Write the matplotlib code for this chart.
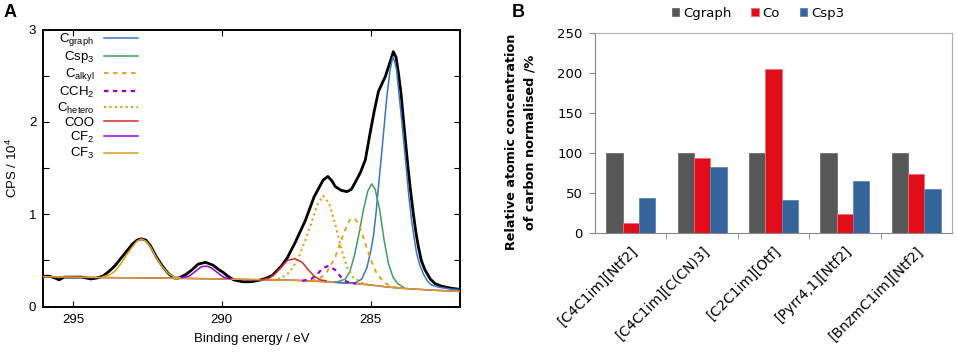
import matplotlib
matplotlib.use("Agg")
from matplotlib import pyplot as plt

plt.rcParams['mathtext.default'] = 'regular'

# --- panel A: C 1s spectrum ---
raw_energy = [296.0, 295.8, 295.6, 295.47, 295.3, 295.0, 294.7, 294.4, 294.2, 294.0,
              293.8, 293.6, 293.4, 293.2, 293.0, 292.85, 292.7, 292.55, 292.4, 292.2,
              292.0, 291.8, 291.6, 291.45, 291.2, 291.0, 290.8, 290.55, 290.3, 290.1,
              289.95, 289.8, 289.6, 289.3, 289.0, 288.7, 288.5, 288.3, 288.15, 288.0,
              287.8, 287.53, 287.2, 286.9, 286.75, 286.6, 286.44, 286.3, 286.19, 286.0,
              285.8, 285.65, 285.53, 285.35, 285.18, 285.02, 284.88, 284.74, 284.6, 284.51,
              284.4, 284.3, 284.24, 284.15, 284.07, 283.98, 283.9, 283.82, 283.74, 283.65,
              283.57, 283.48, 283.4, 283.3, 283.18, 283.0, 282.84, 282.6, 282.3, 282.07]
raw_cps = [0.33, 0.33, 0.31, 0.29, 0.32, 0.32, 0.32, 0.30, 0.31, 0.33,
           0.38, 0.44, 0.52, 0.60, 0.68, 0.72, 0.735, 0.72, 0.66, 0.54,
           0.44, 0.36, 0.31, 0.31, 0.35, 0.40, 0.46, 0.48, 0.45, 0.40,
           0.37, 0.33, 0.29, 0.27, 0.27, 0.29, 0.31, 0.34, 0.39, 0.44,
           0.53, 0.70, 0.93, 1.19, 1.28, 1.37, 1.41, 1.36, 1.30, 1.26,
           1.245, 1.27, 1.34, 1.45, 1.59, 1.88, 2.12, 2.33, 2.43, 2.49,
           2.60, 2.70, 2.76, 2.70, 2.53, 2.30, 2.02, 1.75, 1.48, 1.22,
           1.01, 0.80, 0.65, 0.50, 0.40, 0.30, 0.25, 0.22, 0.20, 0.19]

bg_energy = [296.0, 294.0, 292.0, 290.0, 288.5, 287.5, 286.5, 285.5, 285.0, 284.5, 284.0, 283.0, 282.0]
bg_cps = [0.325, 0.315, 0.31, 0.30, 0.29, 0.285, 0.27, 0.25, 0.235, 0.215, 0.20, 0.18, 0.165]

cgraph_energy = [286.2, 285.8, 285.5, 285.3, 285.13, 285.0, 284.91, 284.82, 284.74, 284.65,
                 284.57, 284.46, 284.35, 284.26, 284.2, 284.13, 284.05, 283.96, 283.88, 283.8,
                 283.72, 283.63, 283.54, 283.46, 283.35, 283.24, 283.1, 282.96, 282.7, 282.3, 282.07]
cgraph_cps = [0.265, 0.255, 0.26, 0.30, 0.42, 0.60, 0.76, 1.02, 1.30, 1.60,
              1.88, 2.27, 2.56, 2.70, 2.66, 2.56, 2.30, 2.02, 1.75, 1.48,
              1.20, 0.94, 0.74, 0.58, 0.45, 0.36, 0.28, 0.235, 0.21, 0.19, 0.185]

csp3_energy = [286.1, 285.85, 285.7, 285.55, 285.4, 285.25, 285.1, 284.97, 284.85, 284.7,
               284.55, 284.4, 284.25, 284.1, 283.9]
csp3_cps = [0.27, 0.30, 0.38, 0.55, 0.78, 1.04, 1.25, 1.33, 1.27, 1.05,
            0.72, 0.46, 0.32, 0.25, 0.21]

calkyl_energy = [287.0, 286.75, 286.5, 286.2, 285.9, 285.7, 285.57, 285.4, 285.2, 285.0,
                 284.8, 284.55, 284.3, 284.0]
calkyl_cps = [0.28, 0.30, 0.36, 0.53, 0.80, 0.94, 0.96, 0.90, 0.70, 0.51,
              0.36, 0.26, 0.22, 0.20]

cch2_energy = [287.3, 287.0, 286.8, 286.6, 286.42, 286.2, 286.0, 285.8, 285.5]
cch2_cps = [0.28, 0.30, 0.35, 0.42, 0.44, 0.40, 0.32, 0.27, 0.25]

chetero_energy = [288.3, 288.0, 287.8, 287.6, 287.4, 287.2, 287.0, 286.8, 286.6, 286.4,
                  286.2, 286.0, 285.8, 285.6, 285.3, 285.0]
chetero_cps = [0.29, 0.31, 0.35, 0.43, 0.55, 0.72, 0.90, 1.10, 1.20, 1.12,
               0.90, 0.64, 0.43, 0.32, 0.26, 0.23]

coo_energy = [288.7, 288.4, 288.2, 288.0, 287.8, 287.56, 287.3, 287.1, 286.9, 286.7, 286.5]
coo_cps = [0.29, 0.31, 0.36, 0.43, 0.50, 0.52, 0.48, 0.40, 0.33, 0.29, 0.28]

cf2_energy = [291.4, 291.1, 290.9, 290.7, 290.53, 290.35, 290.15, 289.95, 289.7]
cf2_cps = [0.31, 0.33, 0.38, 0.43, 0.44, 0.42, 0.37, 0.32, 0.30]

cf3_energy = [294.0, 293.8, 293.6, 293.4, 293.2, 293.0, 292.85, 292.7, 292.55, 292.4,
              292.2, 292.0, 291.8, 291.6, 291.4]
cf3_cps = [0.325, 0.34, 0.38, 0.46, 0.56, 0.65, 0.71, 0.733, 0.71, 0.65,
           0.53, 0.43, 0.36, 0.32, 0.31]

# --- panel B: relative atomic concentration ---
liquids = ['[C4C1im][Ntf2]', '[C4C1im][C(CN)3]', '[C2C1im][Otf]', '[Pyrr4,1][Ntf2]', '[BnzmC1im][Ntf2]']
cgraph_rel = [100, 100, 100, 100, 100]
co_rel = [12, 94, 205, 23, 74]
csp3_rel = [44, 82, 41, 65, 55]

FONT_A = 'Liberation Sans'


def plot_spectrum(ax):
    ax.plot(raw_energy, raw_cps, color='black', lw=2.0, zorder=2)
    ax.plot(bg_energy, bg_cps, color='#8f06d6', lw=1.1, zorder=3)
    ax.plot(bg_energy, bg_cps, color='#d9a21c', lw=1.1, zorder=3.5)

    comps = [
        (cgraph_energy, cgraph_cps, r'C$_{graph}$', '#3a75c4', '-', 1.1),
        (csp3_energy, csp3_cps, r'Csp$_3$', '#3f9c66', '-', 1.1),
        (calkyl_energy, calkyl_cps, r'C$_{alkyl}$', '#e59e0a', (0, (2.5, 2.5)), 1.3),
        (cch2_energy, cch2_cps, r'CCH$_2$', '#8f06d6', (0, (2.0, 2.0)), 1.6),
        (chetero_energy, chetero_cps, r'C$_{hetero}$', '#e59e0a', (0, (1, 1.6)), 1.5),
        (coo_energy, coo_cps, 'COO', '#d42a2a', '-', 1.1),
        (cf2_energy, cf2_cps, r'CF$_2$', '#8f06d6', '-', 1.1),
        (cf3_energy, cf3_cps, r'CF$_3$', '#d9a21c', '-', 1.1),
    ]
    for e, c, lab, col, ls, lw in comps:
        ax.plot(e, c, color=col, ls=ls, lw=lw, label=lab, zorder=4)

    ax.set_xlim(296, 282)
    ax.set_ylim(0, 3)
    ax.set_xticks([295, 290, 285])
    ax.set_yticks([0, 1, 2, 3])
    ax.set_yticks([0.5, 1.5, 2.5], minor=True)
    ax.tick_params(which='both', direction='in', top=True, right=True,
                   length=4, width=0.8, labelsize=9.5, pad=5)
    for t in ax.get_xticklabels() + ax.get_yticklabels():
        t.set_family(FONT_A)
    for sp in ax.spines.values():
        sp.set_linewidth(1.4)
    ax.set_xlabel('Binding energy / eV', fontsize=9.5, labelpad=5, family=FONT_A)
    ax.set_ylabel('CPS / 10$^4$', fontsize=9.5, labelpad=6, family=FONT_A)

    ax.legend(loc='upper left', bbox_to_anchor=(0.01, 1.027), frameon=False,
              markerfirst=False, handlelength=2.6, handletextpad=0.75,
              labelspacing=0.08, borderaxespad=0.3,
              prop={'family': FONT_A, 'size': 9.5})


def plot_bars(ax):
    x = list(range(len(liquids)))
    w = 0.228
    ax.bar([i - w for i in x], cgraph_rel, w, color='#575757', edgecolor='#6e6e6e', lw=0.6, label='Cgraph')
    ax.bar(x, co_rel, w, color='#e00d18', edgecolor='#f07078', lw=0.6, label='Co')
    ax.bar([i + w for i in x], csp3_rel, w, color='#35649a', edgecolor='#5a85b8', lw=0.6, label='Csp3')

    ax.set_xlim(-0.5, len(liquids) - 0.5)
    ax.set_ylim(0, 250)
    ax.set_yticks(range(0, 251, 50))
    ax.set_xticks(x)
    ax.set_xticklabels(liquids, rotation=45, ha='right', rotation_mode='anchor', fontsize=10)
    ax.set_xticks([i + 0.5 for i in x[:-1]], minor=True)
    ax.tick_params(axis='x', which='major', length=0, pad=8)
    ax.tick_params(axis='x', which='minor', length=4, color='#888888', direction='out')
    ax.tick_params(axis='y', length=4, color='#888888', direction='out', labelsize=9.5, pad=5)
    for sp in ax.spines.values():
        sp.set_color('#b0b0b0')
        sp.set_linewidth(0.8)
    ax.spines['left'].set_color('#888888')
    ax.spines['bottom'].set_color('#888888')
    ax.set_ylabel('Relative atomic concentration\nof carbon normalised /%',
                  fontsize=9.2, fontweight='bold', linespacing=1.55)
    ax.yaxis.set_label_coords(-0.163, 0.455)
    return ax.get_legend_handles_labels()


fig = plt.figure(figsize=(9.57, 3.53), dpi=100)

ax_a = fig.add_axes([0.0452, 0.1312, 0.4355, 0.7852])
plot_spectrum(ax_a)

ax_b = fig.add_axes([0.6217, 0.3408, 0.3731, 0.5649])
handles, labels = plot_bars(ax_b)
fig.legend(handles, labels, loc='center', bbox_to_anchor=(0.792, 0.963), ncol=3,
           frameon=False, handlelength=0.55, handleheight=0.55, handletextpad=0.3,
           columnspacing=1.5, fontsize=9.5)

fig.text(0.004, 0.965, 'A', fontsize=13, fontweight='bold', va='center', family=FONT_A)
fig.text(0.535, 0.965, 'B', fontsize=13, fontweight='bold', va='center', family=FONT_A)

fig.savefig('out.png', dpi=100)
